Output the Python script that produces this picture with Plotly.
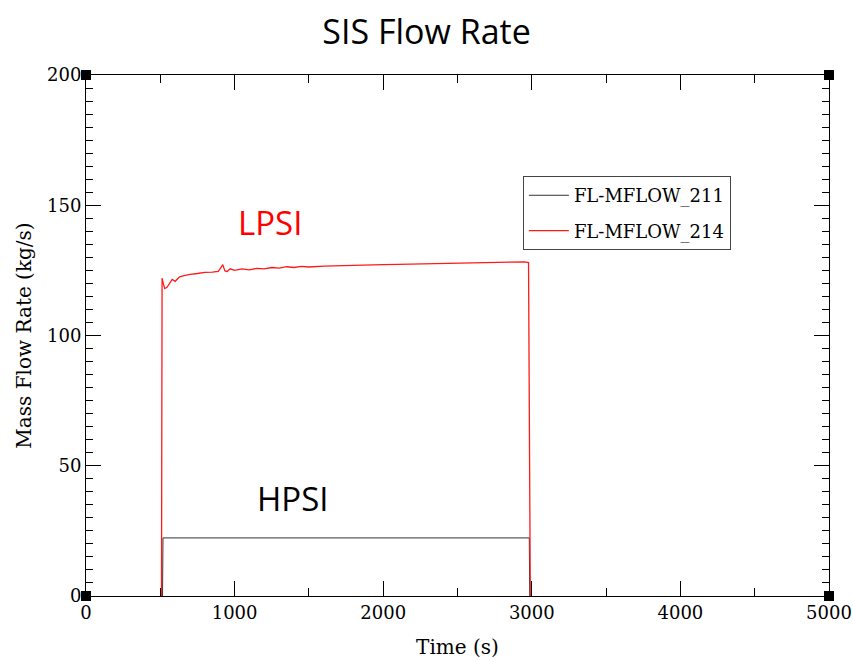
import plotly.graph_objects as go

# ---- data ----
t_214 = [508, 512, 520, 530, 545, 560, 580, 600, 630, 660, 700, 750, 800, 850, 890, 910, 920, 935, 950, 970,
         1000, 1050, 1100, 1150, 1200, 1250, 1300, 1350, 1400, 1450, 1500, 1600, 1700, 1800, 1900, 2000, 2100, 2200, 2300,
         2400, 2500, 2600, 2700, 2800, 2900, 2950, 2978, 2983, 2990]
v_214 = [0, 122, 120, 118, 118.5, 120, 121.5, 120.8, 122.5, 123, 123.5, 123.8, 124.2, 124.3, 124.6, 126.2, 127.2,
         124.8, 124.6, 125.6, 125.0, 125.6, 125.2, 125.8, 125.6, 126.1, 125.9, 126.4, 126.1, 126.5, 126.3, 126.6, 126.8, 127.0,
         127.0, 127.2, 127.3, 127.4, 127.5, 127.6, 127.7, 127.8, 127.8, 128.0, 128.2, 128.3, 128.0, 60, 0]

t_211 = [515, 518, 2983, 2986]
v_211 = [0, 22.3, 22.3, 0]

x_range = [0, 5000]
y_range = [0, 200]

title_text = "SIS Flow Rate"
x_title = "Time (s)"
y_title = "Mass Flow Rate (kg/s)"

serif = "DejaVu Serif"
sans = "Open Sans"

fig = go.Figure()
fig.add_trace(go.Scatter(x=t_211, y=v_211, mode="lines", name="FL-MFLOW_211", legendgroup="a",
                         line=dict(color="#333333", width=1)))
fig.add_trace(go.Scatter(x=t_214, y=v_214, mode="lines", name="FL-MFLOW_214", legendgroup="b",
                         line=dict(color="#ff1a1a", width=1.3)))
# corner markers
fig.add_trace(go.Scatter(x=[x_range[0], x_range[1], x_range[0], x_range[1]],
                         y=[y_range[0], y_range[0], y_range[1], y_range[1]],
                         mode="markers", marker=dict(symbol="square", size=10, color="black"),
                         cliponaxis=False, showlegend=False, hoverinfo="skip"))

fig.add_annotation(x=1240, y=143.5, text="LPSI", showarrow=False,
                   font=dict(family=sans, size=33, color="#ff0000"))
fig.add_annotation(x=1390, y=37.5, text="HPSI", showarrow=False,
                   font=dict(family=sans, size=33, color="#000000"))

axis_common = dict(showline=True, linecolor="black", linewidth=1, mirror="allticks",
                   ticks="inside", ticklen=15, tickcolor="black", tickwidth=1,
                   showgrid=False, zeroline=False,
                   tickfont=dict(family=serif, size=18, color="black"))

fig.update_layout(
    width=853, height=660,
    paper_bgcolor="white", plot_bgcolor="white",
    margin=dict(l=86, r=24, t=75, b=64, autoexpand=False),
    title=dict(text=title_text, x=0.5, xanchor="center", y=0.951, yanchor="middle",
               font=dict(family=sans, size=34, color="black")),
    xaxis=dict(range=x_range, dtick=1000, title=dict(text=x_title, font=dict(family=serif, size=20, color="black"), standoff=18),
               minor=dict(dtick=500, ticklen=8, ticks="inside", tickcolor="black"), **axis_common),
    yaxis=dict(range=y_range, dtick=50, title=dict(text=y_title, font=dict(family=serif, size=20, color="black"), standoff=10),
               minor=dict(dtick=5, ticklen=7, ticks="inside", tickcolor="black"), **axis_common),
    legend=dict(x=0.588, y=0.806, xanchor="left", yanchor="top",
                bordercolor="#444444", borderwidth=1, bgcolor="white",
                font=dict(family=serif, size=18, color="black"),
                traceorder="grouped", tracegroupgap=9, itemwidth=40),
    showlegend=True,
)

fig.write_html("out.html")
